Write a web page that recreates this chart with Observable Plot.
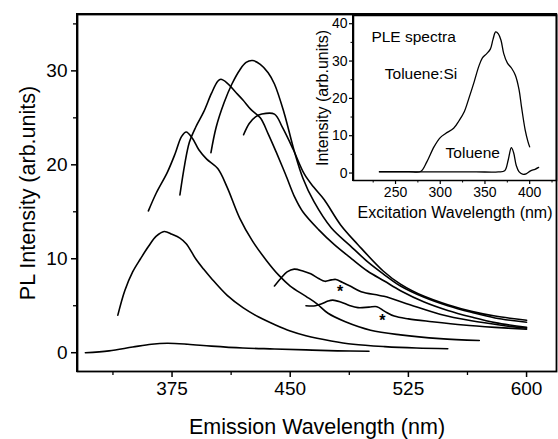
<!DOCTYPE html>
<html><head><meta charset="utf-8">
<script src="https://cdn.jsdelivr.net/npm/d3@7"></script>
<script src="https://cdn.jsdelivr.net/npm/@observablehq/plot@0.6"></script>
<style>
html,body{margin:0;padding:0;background:#fff;overflow:hidden;}
#wrap{position:relative;width:558px;height:439px;}
.box{position:absolute;box-sizing:border-box;border:solid #000;pointer-events:none;}
</style></head>
<body><div id="wrap"></div>
<script>
// ---- main chart data (emission wavelength nm, PL intensity) ----
const curveA = [[320,0.0],[335,0.2],[350,0.6],[362,0.9],[372,1.0],[385,0.9],[400,0.7],[420,0.5],[440,0.4],[460,0.3],[480,0.2],[500,0.15]];
const curveB = [[340.6,4.0],[345,6.6],[350,8.6],[355,10.0],[360,11.3],[365,12.4],[370,12.9],[375,12.6],[380,12.2],[384,11.6],[390,10.0],[395,8.9],[400,7.9],[410,6.1],[420,4.8],[430,3.8],[440,3.0],[450,2.3],[460,1.8],[476,1.25],[490,0.9],[510,0.65],[530,0.5],[550,0.42]];
const curveC = [[360,15.1],[365,17.0],[372,19.2],[377,21.2],[381,23.0],[384,23.5],[388,22.8],[392,21.6],[397,20.6],[404,19.6],[410,17.6],[418,14.3],[426,11.9],[435,9.8],[443,8.2],[450,7.1],[460,6.0],[467,5.2],[474,4.2],[485,3.3],[501,2.4],[520,1.9],[545,1.5],[570,1.3]];
const curveD = [[380,16.8],[383,20.0],[386,22.4],[390,24.0],[395,25.6],[400,27.6],[404,28.9],[406,29.1],[410,28.7],[415,27.8],[420,26.9],[425,25.9],[431,25.0],[436,23.3],[441,21.4],[447,19.0],[453,16.5],[458,15.0],[468,13.1],[478,11.5],[489,10.0],[499,8.7],[510,7.6],[520,6.6],[535,5.4],[550,4.5],[565,3.8],[580,3.2],[600,2.7]];
const curveE = [[420.4,23.2],[424,24.4],[428,25.1],[432,25.4],[440,25.4],[445,24.0],[452,21.6],[459,19.0],[465,17.6],[471.5,16.3],[482,13.6],[493,11.5],[509,8.7],[520,7.3],[535,6.0],[550,5.1],[565,4.4],[580,3.9],[600,3.45]];
const curveF = [[399.7,21.3],[403,24.0],[408,26.6],[413,28.6],[418,30.1],[422,30.9],[426,31.1],[431,30.7],[436,29.8],[440,28.6],[446,25.6],[452.5,21.5],[458,18.6],[465,16.1],[476,13.3],[488,11.4],[499,9.7],[509,8.4],[520,7.1],[535,5.9],[550,5.0],[565,4.3],[580,3.7],[600,3.25]];
const curveG = [[440,7.1],[444,7.9],[448,8.6],[452.5,8.9],[458,8.7],[463,8.4],[468,7.9],[472,7.6],[476,7.75],[479,7.8],[483,7.5],[488,7.1],[495,6.5],[509.5,6.0],[526,5.1],[545,4.1],[565,3.4],[585,2.9],[600,2.6]];
const curveH = [[460,5.0],[466,5.0],[470,5.2],[474,5.5],[477,5.6],[482,5.4],[488,5.0],[493,4.8],[500,4.85],[505,4.9],[510,4.4],[516,3.9],[525,3.6],[540,3.3],[560,2.95],[580,2.7],[600,2.5]];
const mainCurves = {A: curveA, B: curveB, C: curveC, D: curveD, E: curveE, F: curveF, G: curveG, H: curveH};
const asterisks = [[481.7, 6.9], [508.5, 3.8]];
const xDomain = [315, 619];
const yDomain = [-2, 36];
const xMajor = [375, 450, 525, 600];
const xMinor = [337.5, 412.5, 487.5, 562.5];
const yMajor = [0, 10, 20, 30];
const yMinor = [5, 15, 25, 35];

// ---- inset data (excitation wavelength nm, intensity) ----
const pleSi = [[232,0.4],[250,0.4],[265,0.4],[278,0.4],[285,3.0],[293,7.0],[300,9.5],[306,10.6],[315,12.0],[321,14.0],[327,16.5],[332,20.0],[338,24.5],[343,28.5],[347,30.8],[352,32.0],[356,33.2],[359,35.8],[362,37.8],[365,37.3],[368,35.5],[371,32.0],[375,29.5],[380,28.0],[384,26.2],[388,22.5],[391,17.5],[395,11.5],[398,8.5],[400,7.0]];
const pleToluene = [[232,0.3],[260,0.3],[300,0.3],[340,0.3],[365,0.3],[372,0.6],[376,3.5],[379.5,6.8],[382,5.5],[385,2.0],[388,0.4],[392,-0.3],[396,-0.2],[401,0.6],[406,1.0],[410,1.5]];
const insetLabels = [["PLE spectra", 223, 36.5], ["Toluene:Si", 238, 26.5], ["Toluene", 306, 5.4]];
const insetXDomain = [203, 430];
const insetYDomain = [-2, 42.2];
const insetXMajor = [250, 300, 350, 400];
const insetXMinor = [225, 275, 325, 375, 425];
const insetYMajor = [0, 10, 20, 30, 40];
const insetYMinor = [5, 15, 25, 35];

const font = "'Liberation Sans', Arial, Helvetica, sans-serif";
const mainRows = Object.entries(mainCurves).flatMap(([id, pts]) => pts.map(([x, y]) => ({id, x, y})));
const astRows = asterisks.map(([x, y]) => ({x, y}));

const main = Plot.plot({
  width: 558, height: 439,
  marginLeft: 77, marginRight: 2, marginTop: 14, marginBottom: 68,
  x: {domain: xDomain},
  y: {domain: yDomain},
  style: {fontFamily: font, fontSize: "19px", background: "white", color: "black"},
  marks: [
    Plot.axisX({ticks: xMajor, tickSize: 6, tickPadding: 4, tickFormat: d => String(d), stroke: "black", strokeWidth: 1.5,
      label: "Emission Wavelength (nm)", labelAnchor: "center", labelOffset: 62, labelArrow: "none"}),
    Plot.axisX({ticks: xMinor, tickSize: 4, tickFormat: () => "", label: null, stroke: "black", strokeWidth: 1.3}),
    Plot.axisY({ticks: yMajor, tickSize: 6, tickPadding: 4, tickFormat: d => String(d), stroke: "black", strokeWidth: 1.5,
      label: "PL Intensity (arb.units)", labelAnchor: "center", labelOffset: 58, labelArrow: "none"}),
    Plot.axisY({ticks: yMinor, tickSize: 4, tickFormat: () => "", label: null, stroke: "black", strokeWidth: 1.3}),
    Plot.line(mainRows, {x: "x", y: "y", z: "id", curve: "catmull-rom", stroke: "black", strokeWidth: 1.6}),
    Plot.text(astRows, {x: "x", y: "y", text: () => "*", fontSize: 16, fontWeight: "bold", dy: 4}),
    Plot.frame({stroke: "black", strokeWidth: 1.8})
  ]
});
main.style.display = "block";
main.querySelectorAll("g[aria-label='x-axis label'] text, g[aria-label='y-axis label'] text").forEach(t => t.setAttribute("font-size", "21.5"));

const insetRows = [
  ...pleSi.map(([x, y]) => ({id: "si", x, y})),
  ...pleToluene.map(([x, y]) => ({id: "tol", x, y}))
];
const inset = Plot.plot({
  width: 258, height: 225,
  marginLeft: 53, marginRight: 2, marginTop: 15, marginBottom: 45,
  x: {domain: insetXDomain},
  y: {domain: insetYDomain},
  style: {fontFamily: font, fontSize: "14px", color: "black"},
  marks: [
    Plot.axisX({ticks: insetXMajor, tickSize: 4, tickPadding: 3, tickFormat: d => String(d), stroke: "black", strokeWidth: 1.2,
      label: "Excitation Wavelength (nm)", labelAnchor: "center", labelOffset: 37, labelArrow: "none"}),
    Plot.axisX({ticks: insetXMinor, tickSize: 2.5, tickFormat: () => "", label: null, stroke: "black"}),
    Plot.axisY({ticks: insetYMajor, tickSize: 4, tickPadding: 2, tickFormat: d => String(d), stroke: "black", strokeWidth: 1.2,
      label: "Intensity (arb.units)", labelAnchor: "center", labelOffset: 37, labelArrow: "none"}),
    Plot.axisY({ticks: insetYMinor, tickSize: 2.5, tickFormat: () => "", label: null, stroke: "black"}),
    Plot.line(insetRows, {x: "x", y: "y", z: "id", curve: "catmull-rom", stroke: "black", strokeWidth: 1.3}),
    Plot.text(insetLabels, {x: d => d[1], y: d => d[2], text: d => d[0], textAnchor: "start", fontSize: 15.5}),
    Plot.frame({stroke: "black", strokeWidth: 1.5})
  ]
});
inset.querySelectorAll("g[aria-label='x-axis label'] text, g[aria-label='y-axis label'] text").forEach(t => t.setAttribute("font-size", "16"));
const insetLeft = 300;
inset.setAttribute("x", String(insetLeft));
inset.setAttribute("y", "0");
inset.setAttribute("overflow", "visible");
inset.style.width = "258px";
inset.style.height = "225px";
inset.style.maxWidth = "none";
main.appendChild(inset);

const wrap = document.getElementById("wrap");
wrap.appendChild(main);

// plot-area borders placed from the library's own scale ranges
function box(plot, dx, bw) {
  const [x0, x1] = plot.scale("x").range;
  const [y0, y1] = plot.scale("y").range;
  const d = document.createElement("div");
  d.className = "box";
  d.style.borderWidth = bw + "px";
  d.style.left = (dx + Math.min(x0, x1) - bw / 2) + "px";
  d.style.top = (Math.min(y0, y1) - bw / 2) + "px";
  d.style.width = (Math.abs(x1 - x0) + bw) + "px";
  d.style.height = (Math.abs(y1 - y0) + bw) + "px";
  wrap.appendChild(d);
}
box(main, 0, 1.8);
box(inset, insetLeft, 1.5);
</script>
</body></html>
